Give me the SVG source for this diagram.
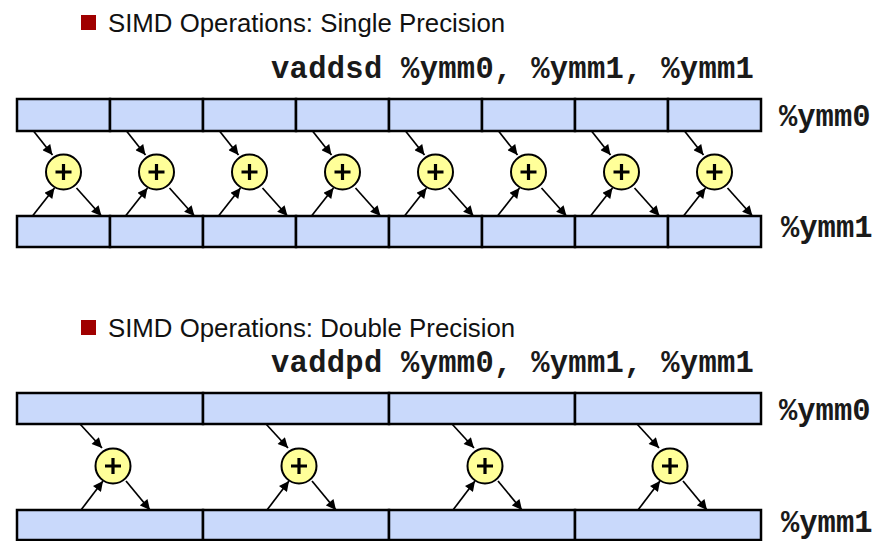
<svg xmlns="http://www.w3.org/2000/svg" width="876" height="541" viewBox="0 0 876 541">
  <style>
    .title { font-family: "Liberation Sans", Arial, sans-serif; font-size: 25.8px; fill: #111; }
    .code { font-family: "Liberation Mono", "Courier New", monospace; font-weight: bold; font-size: 30.5px; fill: #1a1a1a; }
    .instr { letter-spacing: 0.28px; }
    .bullet { fill: #a00000; }
    .cell { fill: #c9d9fb; stroke: #000; stroke-width: 2.5; }
    .wire { stroke: #000; stroke-width: 1.7; fill: none; marker-end: url(#head); }
  </style>
  <defs>
    <marker id="head" viewBox="0 0 10 10" refX="10" refY="5" markerWidth="11" markerHeight="10" markerUnits="userSpaceOnUse" orient="auto">
      <path d="M0,0 L10,5 L0,10 z" fill="#000"/>
    </marker>
    <g id="plus">
      <circle r="17.5" fill="#ffff99" stroke="#000" stroke-width="2"/>
      <path d="M-8,0 H8 M0,-8 V8" stroke="#000" stroke-width="3.2" fill="none"/>
    </g>
  </defs>

  <rect width="876" height="541" fill="#fff"/>

  <!-- Single precision: eight 32-bit lanes -->
  <g id="title-single">
    <rect class="bullet" x="81" y="15" width="15" height="15"/>
    <text class="title" x="108" y="32">SIMD Operations: Single Precision</text>
  </g>
  <text id="instr-single" class="code instr" x="271" y="78">vaddsd %ymm0, %ymm1, %ymm1</text>

  <g id="ymm0-single">
    <rect class="cell" x="17" y="99" width="93" height="32"/>
    <rect class="cell" x="110" y="99" width="93" height="32"/>
    <rect class="cell" x="203" y="99" width="93" height="32"/>
    <rect class="cell" x="296" y="99" width="93" height="32"/>
    <rect class="cell" x="389" y="99" width="93" height="32"/>
    <rect class="cell" x="482" y="99" width="93" height="32"/>
    <rect class="cell" x="575" y="99" width="93" height="32"/>
    <rect class="cell" x="668" y="99" width="93" height="32"/>
    <text class="code" x="779" y="126">%ymm0</text>
  </g>
  <g id="ymm1-single">
    <rect class="cell" x="17" y="216" width="93" height="31"/>
    <rect class="cell" x="110" y="216" width="93" height="31"/>
    <rect class="cell" x="203" y="216" width="93" height="31"/>
    <rect class="cell" x="296" y="216" width="93" height="31"/>
    <rect class="cell" x="389" y="216" width="93" height="31"/>
    <rect class="cell" x="482" y="216" width="93" height="31"/>
    <rect class="cell" x="575" y="216" width="93" height="31"/>
    <rect class="cell" x="668" y="216" width="93" height="31"/>
    <text class="code" x="781" y="237">%ymm1</text>
  </g>

  <g id="adders-single">
    <g id="add-s0"><use href="#plus" x="63.5" y="172"/></g>
    <g id="add-s1"><use href="#plus" x="156.5" y="172"/></g>
    <g id="add-s2"><use href="#plus" x="249.5" y="172"/></g>
    <g id="add-s3"><use href="#plus" x="342.5" y="172"/></g>
    <g id="add-s4"><use href="#plus" x="435.5" y="172"/></g>
    <g id="add-s5"><use href="#plus" x="528.5" y="172"/></g>
    <g id="add-s6"><use href="#plus" x="621.5" y="172"/></g>
    <g id="add-s7"><use href="#plus" x="714.5" y="172"/></g>
  </g>

  <!-- each lane: ymm0 -> adder, ymm1 -> adder, adder -> ymm1 -->
  <g id="connectors-single">
    <path class="wire" d="M33.5,131 L52.5,155"/><path class="wire" d="M32.5,216 L54.5,188"/><path class="wire" d="M76.5,188 L101.5,216"/>
    <path class="wire" d="M126.5,131 L145.5,155"/><path class="wire" d="M125.5,216 L147.5,188"/><path class="wire" d="M169.5,188 L194.5,216"/>
    <path class="wire" d="M219.5,131 L238.5,155"/><path class="wire" d="M218.5,216 L240.5,188"/><path class="wire" d="M262.5,188 L287.5,216"/>
    <path class="wire" d="M312.5,131 L331.5,155"/><path class="wire" d="M311.5,216 L333.5,188"/><path class="wire" d="M355.5,188 L380.5,216"/>
    <path class="wire" d="M405.5,131 L424.5,155"/><path class="wire" d="M404.5,216 L426.5,188"/><path class="wire" d="M448.5,188 L473.5,216"/>
    <path class="wire" d="M498.5,131 L517.5,155"/><path class="wire" d="M497.5,216 L519.5,188"/><path class="wire" d="M541.5,188 L566.5,216"/>
    <path class="wire" d="M591.5,131 L610.5,155"/><path class="wire" d="M590.5,216 L612.5,188"/><path class="wire" d="M634.5,188 L659.5,216"/>
    <path class="wire" d="M684.5,131 L703.5,155"/><path class="wire" d="M683.5,216 L705.5,188"/><path class="wire" d="M727.5,188 L752.5,216"/>
  </g>

  <!-- Double precision: four 64-bit lanes -->
  <g id="title-double">
    <rect class="bullet" x="81" y="320" width="15" height="15"/>
    <text class="title" x="108" y="337">SIMD Operations: Double Precision</text>
  </g>
  <text id="instr-double" class="code instr" x="271" y="372">vaddpd %ymm0, %ymm1, %ymm1</text>

  <g id="ymm0-double">
    <rect class="cell" x="17" y="393" width="186" height="31"/>
    <rect class="cell" x="203" y="393" width="186" height="31"/>
    <rect class="cell" x="389" y="393" width="186" height="31"/>
    <rect class="cell" x="575" y="393" width="186" height="31"/>
    <text class="code" x="779" y="420">%ymm0</text>
  </g>
  <g id="ymm1-double">
    <rect class="cell" x="17" y="510" width="186" height="30"/>
    <rect class="cell" x="203" y="510" width="186" height="30"/>
    <rect class="cell" x="389" y="510" width="186" height="30"/>
    <rect class="cell" x="575" y="510" width="186" height="30"/>
    <text class="code" x="781" y="532">%ymm1</text>
  </g>

  <g id="adders-double">
    <g id="add-d0"><use href="#plus" x="113" y="466"/></g>
    <g id="add-d1"><use href="#plus" x="299" y="466"/></g>
    <g id="add-d2"><use href="#plus" x="485" y="466"/></g>
    <g id="add-d3"><use href="#plus" x="670" y="466"/></g>
  </g>

  <g id="connectors-double">
    <path class="wire" d="M80,424 L102,448"/><path class="wire" d="M81,510 L103,481"/><path class="wire" d="M126,481 L150,510"/>
    <path class="wire" d="M266,424 L288,448"/><path class="wire" d="M267,510 L289,481"/><path class="wire" d="M312,481 L336,510"/>
    <path class="wire" d="M452,424 L474,448"/><path class="wire" d="M453,510 L475,481"/><path class="wire" d="M498,481 L522,510"/>
    <path class="wire" d="M637,424 L659,448"/><path class="wire" d="M638,510 L660,481"/><path class="wire" d="M683,481 L707,510"/>
  </g>
</svg>
